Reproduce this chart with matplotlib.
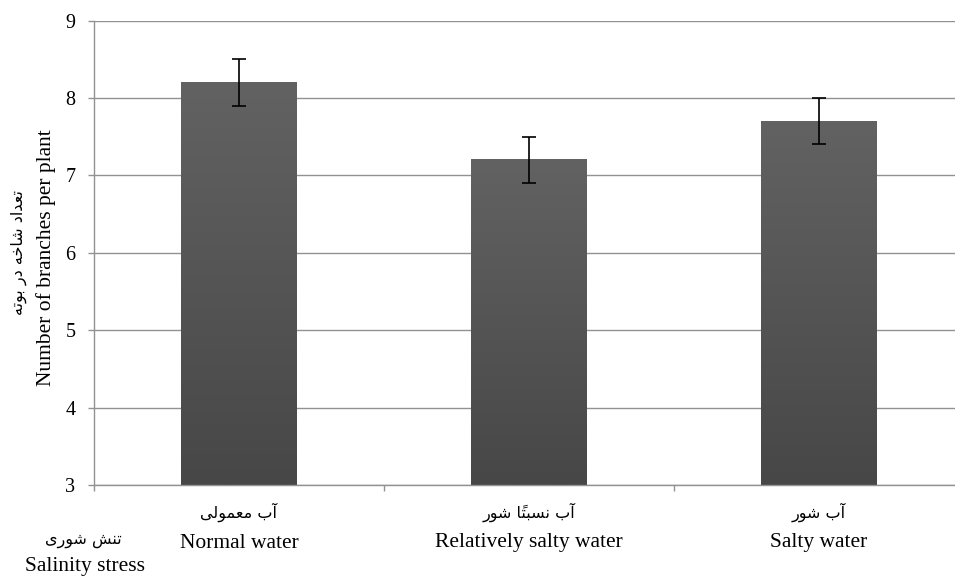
import numpy as np
import matplotlib
matplotlib.use("Agg")
import matplotlib.pyplot as plt
import matplotlib.transforms as mtransforms
from matplotlib.colors import LinearSegmentedColormap

# ---------------- data ----------------
categories_en = ["Normal water", "Relatively salty water", "Salty water"]
categories_fa = ["آب معمولی", "آب نسبتاً شور", "آب شور"]
values = [8.2, 7.2, 7.7]
errors = [0.3, 0.3, 0.3]
y_ticks = [3, 4, 5, 6, 7, 8, 9]
ylabel_en = "Number of branches per plant"
ylabel_fa = "تعداد شاخه در بوته"
xlabel_en = "Salinity stress"
xlabel_fa = "تنش شوری"

# ---------------- minimal Arabic-script shaping (matplotlib has no bidi) ----------------
FORMS = {
    '\u0622': ('\uFE81', '\uFE82'),
    '\u0627': ('\uFE8D', '\uFE8E'),
    '\u062F': ('\uFEA9', '\uFEAA'),
    '\u0631': ('\uFEAD', '\uFEAE'),
    '\u0648': ('\uFEED', '\uFEEE'),
    '\u0628': ('\uFE8F', '\uFE90', '\uFE91', '\uFE92'),
    '\u062A': ('\uFE95', '\uFE96', '\uFE97', '\uFE98'),
    '\u062E': ('\uFEA5', '\uFEA6', '\uFEA7', '\uFEA8'),
    '\u0633': ('\uFEB1', '\uFEB2', '\uFEB3', '\uFEB4'),
    '\u0634': ('\uFEB5', '\uFEB6', '\uFEB7', '\uFEB8'),
    '\u0639': ('\uFEC9', '\uFECA', '\uFECB', '\uFECC'),
    '\u0644': ('\uFEDD', '\uFEDE', '\uFEDF', '\uFEE0'),
    '\u0645': ('\uFEE1', '\uFEE2', '\uFEE3', '\uFEE4'),
    '\u0646': ('\uFEE5', '\uFEE6', '\uFEE7', '\uFEE8'),
    '\u0647': ('\uFEE9', '\uFEEA', '\uFEEB', '\uFEEC'),
    '\u06CC': ('\uFEEF', '\uFEF0', '\uFEF3', '\uFEF4'),
}


def is_mark(c):
    return '\u064B' <= c <= '\u0652'


def shape(text):
    chars = list(text)
    out = []
    for i, c in enumerate(chars):
        if c not in FORMS:
            out.append(c)
            continue
        j = i - 1
        while j >= 0 and is_mark(chars[j]):
            j -= 1
        prev = chars[j] if j >= 0 else None
        k = i + 1
        while k < len(chars) and is_mark(chars[k]):
            k += 1
        nxt = chars[k] if k < len(chars) else None
        f = FORMS[c]
        dual = len(f) == 4
        jp = prev in FORMS and len(FORMS[prev]) == 4
        jn = dual and nxt in FORMS
        if jp and jn:
            g = f[3]
        elif jp:
            g = f[1]
        elif jn:
            g = f[2]
        else:
            g = f[0]
        out.append(g)
    clusters = []
    for orig, g in zip(chars, out):
        if is_mark(orig) and clusters:
            clusters[-1] += g
        else:
            clusters.append(g)
    return ''.join(reversed(clusters))


# ---------------- figure ----------------
SERIF = ['Liberation Serif', 'DejaVu Serif']
ARAB = ['DejaVu Sans']
GRID = '#929292'

fig = plt.figure(figsize=(9.55, 5.76), dpi=100)
ax = fig.add_axes([94 / 955, 91 / 576, 870 / 955, 464.5 / 576])

x = np.arange(len(values))
bars = ax.bar(x, values, width=0.4, color='none', zorder=2)

ymin, ymax = y_ticks[0], y_ticks[-1]
cmap = LinearSegmentedColormap.from_list('g', ['#474747', '#626262'])
grad = np.linspace(0, 1, 256).reshape(-1, 1)
for b in bars:
    x0 = b.get_x()
    ax.imshow(grad, extent=[x0, x0 + b.get_width(), ymin, b.get_height()],
              origin='lower', cmap=cmap, aspect='auto', zorder=2,
              interpolation='bilinear')

ax.errorbar(x, values, yerr=errors, fmt='none', ecolor='black',
            elinewidth=1.2, capsize=5, capthick=1.2, zorder=3)

ax.set_xlim(-0.5, len(values) - 0.5)
ax.set_ylim(ymin, ymax)
ax.set_yticks(y_ticks)
ax.set_yticklabels([str(t) for t in y_ticks], fontfamily=SERIF, fontsize=14.5)
ax.yaxis.grid(True, color=GRID, linewidth=1.0, zorder=0)
ax.set_axisbelow(True)

ax.set_xticks(x)
ax.set_xticklabels([])
ax.tick_params(axis='x', which='major', length=0)
ax.set_xticks(np.arange(len(values) + 1) - 0.5, minor=True)
ax.tick_params(axis='x', which='minor', length=4.5, color=GRID, width=1.0)
ax.tick_params(axis='y', length=4.5, color=GRID, width=1.0, pad=9)

for s in ['top', 'right']:
    ax.spines[s].set_visible(False)
for s in ['left', 'bottom']:
    ax.spines[s].set_color(GRID)
    ax.spines[s].set_linewidth(1.0)

trans = mtransforms.blended_transform_factory(ax.transData, fig.transFigure)
for xi, en, fa in zip(x, categories_en, categories_fa):
    ax.text(xi, 1 - 512 / 576, shape(fa), transform=trans, ha='center',
            va='center', fontfamily=ARAB, fontsize=11.5)
    ax.text(xi, 1 - 543 / 576, en, transform=trans, ha='center',
            va='center', fontfamily=SERIF, fontsize=15.5)

fig.text(83 / 955, 1 - 540 / 576, shape(xlabel_fa), ha='center', va='center',
         fontfamily=ARAB, fontsize=11.5)
fig.text(85 / 955, 1 - 566 / 576, xlabel_en, ha='center', va='center',
         fontfamily=SERIF, fontsize=15.5)

fig.text(19 / 955, 1 - 253 / 576, shape(ylabel_fa), ha='center', va='center',
         rotation=90, fontfamily=ARAB, fontsize=11.5)
fig.text(46 / 955, 1 - 258 / 576, ylabel_en, ha='center', va='center',
         rotation=90, fontfamily=SERIF, fontsize=15.5)

fig.savefig('out.png', dpi=100)
